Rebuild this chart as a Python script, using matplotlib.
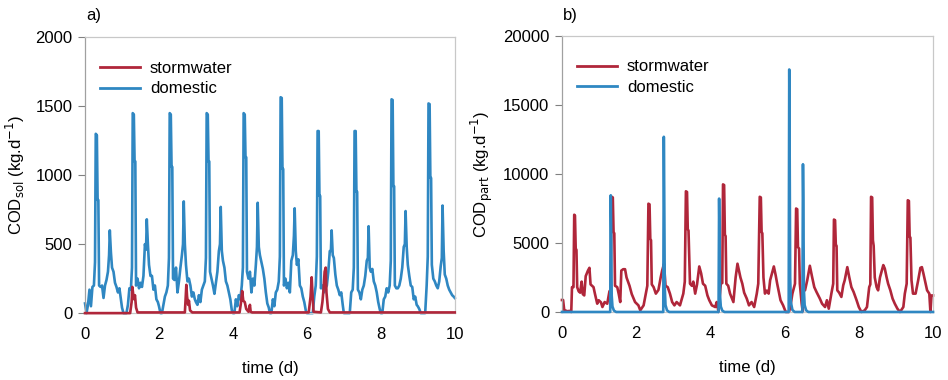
import matplotlib
matplotlib.use("Agg")
import matplotlib.pyplot as plt

plt.rcParams['font.family'] = ['Liberation Sans', 'DejaVu Sans']
plt.rcParams['font.size'] = 12

RED = '#B0263A'
BLUE = '#2F87C2'

# ---------- panel a: soluble COD ----------
# sampling offsets inside each day for the domestic soluble series
day_offsets = [0.00, 0.04, 0.08, 0.12, 0.16, 0.20, 0.24, 0.27, 0.29, 0.32,
               0.34, 0.36, 0.38, 0.42, 0.46, 0.50, 0.54, 0.58, 0.62, 0.65,
               0.67, 0.70, 0.73, 0.77, 0.81, 0.85, 0.89, 0.93, 0.97]

# domestic COD_sol (kg/d), one list per day
dom_sol_days = [
    [70, 0, 60, 170, 50, 190, 200, 370, 1300, 1290, 820, 820, 200, 190, 200, 110, 200, 240, 300, 420, 600, 440, 330, 300, 220, 190, 150, 180, 100],
    [40, 0, 0, 0, 60, 180, 170, 330, 1450, 1440, 1100, 1100, 200, 250, 180, 220, 190, 270, 500, 460, 680, 500, 350, 270, 270, 170, 200, 100, 80],
    [50, 0, 0, 60, 120, 150, 200, 400, 1450, 1440, 1060, 1060, 250, 240, 330, 150, 230, 330, 420, 500, 810, 500, 350, 230, 250, 200, 120, 150, 100],
    [80, 60, 130, 80, 170, 200, 230, 400, 1450, 1440, 1100, 1100, 300, 250, 200, 140, 220, 300, 450, 500, 770, 450, 380, 330, 230, 200, 150, 100, 20],
    [0, 0, 100, 50, 130, 100, 200, 330, 1450, 1440, 1130, 1130, 300, 250, 300, 150, 250, 200, 350, 480, 800, 480, 420, 370, 320, 250, 150, 70, 40],
    [0, 0, 100, 50, 150, 170, 230, 410, 1565, 1560, 1045, 1045, 200, 250, 180, 220, 150, 380, 420, 560, 760, 450, 350, 390, 200, 180, 120, 80, 20],
    [0, 0, 0, 0, 0, 120, 200, 410, 1320, 1320, 850, 850, 180, 200, 150, 180, 200, 300, 450, 450, 600, 420, 400, 280, 200, 170, 130, 150, 60],
    [0, 0, 0, 0, 0, 150, 170, 330, 1320, 1320, 880, 880, 170, 150, 100, 170, 200, 270, 380, 400, 630, 330, 300, 320, 230, 200, 150, 80, 30],
    [0, 0, 100, 120, 180, 150, 200, 380, 1550, 1545, 920, 920, 200, 180, 180, 200, 250, 330, 480, 500, 740, 480, 350, 270, 200, 190, 100, 120, 60],
    [50, 30, 0, 0, 0, 0, 200, 410, 1520, 1515, 980, 980, 350, 250, 230, 200, 180, 230, 340, 400, 780, 450, 280, 250, 200, 170, 150, 130, 120],
]
dom_sol_end = 110

# stormwater COD_sol (time in d, kg/d)
storm_sol_t = [0, 1.22, 1.26, 1.28, 1.31, 1.33, 1.35, 1.38, 1.42,
               2.70, 2.72, 2.74, 2.76, 2.79, 2.81, 2.84, 2.90,
               4.18, 4.22, 4.25, 4.28, 4.32, 4.36, 4.42, 4.46, 4.48, 4.52,
               6.05, 6.10, 6.13, 6.15, 6.18, 6.38, 6.42, 6.45, 6.48, 6.51,
               6.53, 6.57, 6.62, 10.0]
storm_sol_v = [0, 0, 80, 190, 120, 100, 130, 40, 5,
               5, 100, 205, 120, 60, 90, 20, 5,
               5, 80, 160, 90, 80, 30, 10, 60, 10, 5,
               5, 120, 260, 150, 10, 5, 80, 170, 300, 330,
               150, 30, 5, 5]

# ---------- panel b: particulate COD ----------
storm_part_t = [0.00, 0.03, 0.06, 0.10, 0.15, 0.20, 0.25, 0.27, 0.31, 0.33, 0.35, 0.37, 0.39, 0.41, 0.45, 0.49, 0.53, 0.56, 0.60, 0.64, 0.70, 0.74, 0.77, 0.81, 0.85, 0.89, 0.95, 0.99,
                1.05, 1.09, 1.15, 1.22, 1.28, 1.31, 1.34, 1.37, 1.39, 1.41, 1.43, 1.49, 1.53, 1.57, 1.60, 1.65, 1.70, 1.74, 1.78, 1.82, 1.88, 1.97,
                2.06, 2.11, 2.20, 2.26, 2.30, 2.33, 2.36, 2.38, 2.40, 2.42, 2.47, 2.53, 2.60, 2.66, 2.70, 2.75, 2.79, 2.85, 2.91, 2.97,
                3.03, 3.09, 3.18, 3.27, 3.31, 3.34, 3.37, 3.39, 3.41, 3.45, 3.50, 3.54, 3.59, 3.64, 3.70, 3.75, 3.80, 3.86, 3.92, 3.97,
                4.04, 4.13, 4.17, 4.22, 4.28, 4.32, 4.34, 4.37, 4.39, 4.41, 4.43, 4.48, 4.53, 4.62, 4.68, 4.73, 4.77, 4.81, 4.86, 4.91, 4.98,
                5.04, 5.11, 5.18, 5.25, 5.29, 5.33, 5.36, 5.38, 5.40, 5.43, 5.47, 5.52, 5.57, 5.61, 5.66, 5.71, 5.76, 5.80, 5.85, 5.89, 5.96,
                6.03, 6.12, 6.16, 6.21, 6.28, 6.31, 6.34, 6.36, 6.39, 6.41, 6.46, 6.49, 6.51, 6.55, 6.61, 6.68, 6.74, 6.80, 6.86, 6.95,
                7.01, 7.09, 7.14, 7.19, 7.26, 7.31, 7.33, 7.36, 7.38, 7.40, 7.42, 7.47, 7.53, 7.58, 7.62, 7.69, 7.74, 7.80, 7.86, 7.94,
                8.00, 8.07, 8.16, 8.22, 8.28, 8.31, 8.33, 8.36, 8.38, 8.40, 8.43, 8.48, 8.52, 8.57, 8.66, 8.70, 8.75, 8.79, 8.85, 8.91, 8.97,
                9.04, 9.11, 9.20, 9.24, 9.29, 9.32, 9.35, 9.37, 9.39, 9.42, 9.46, 9.53, 9.60, 9.66, 9.70, 9.74, 9.78, 9.84, 9.90, 9.93, 9.96, 10.0]
storm_part_v = [870, 870, 150, 100, 50, 80, 0, 1800, 1800, 7050, 7000, 4600, 4500, 1800, 1500, 1400, 2200, 1300, 1200, 2600, 3000, 3200, 2000, 1900, 1800, 1300, 600, 850,
                700, 360, 720, 600, 1500, 1600, 8350, 8300, 5800, 5700, 1900, 1800, 1300, 720, 3000, 3100, 3100, 2500, 2200, 1900, 1300, 720,
                480, 120, 480, 1330, 1900, 7850, 7800, 5300, 5200, 2000, 1800, 1330, 1600, 2500, 3000, 3500, 1900, 1800, 1330, 720,
                480, 720, 480, 1330, 2200, 8750, 8700, 6000, 5900, 2050, 1900, 2200, 1330, 2000, 3300, 2800, 2050, 1900, 1200, 850,
                480, 360, 720, 0, 2050, 2100, 9250, 9200, 5600, 5500, 2050, 1900, 1330, 720, 2500, 3500, 3000, 2500, 2050, 1400, 970,
                480, 720, 360, 1330, 2050, 8350, 8300, 5800, 5700, 2500, 1330, 1550, 1330, 2300, 2800, 3300, 2650, 2050, 1400, 850, 480,
                0, 0, 480, 1330, 2050, 7500, 7450, 4700, 4600, 2050, 600, 0, 2000, 1570, 2300, 3350, 2550, 1800, 1450, 970,
                600, 360, 850, 240, 1330, 2050, 6700, 6650, 4850, 4800, 1570, 1400, 1090, 1930, 2300, 3250, 2550, 1800, 1450, 850,
                360, 0, 120, 360, 1800, 2000, 8350, 8300, 5200, 4800, 2500, 1800, 1570, 2500, 3400, 3150, 2500, 2050, 1570, 970, 600,
                240, 0, 360, 1330, 2050, 8100, 8050, 5450, 5400, 2300, 1330, 1330, 2300, 3200, 3250, 2800, 2300, 1570, 1330, 0, 1200, 1200]

# domestic COD_part: short flushes
dom_part_t = [0, 1.30, 1.315, 1.325, 1.34, 1.36, 1.40, 1.46,
              2.73, 2.745, 2.755, 2.77, 2.79, 2.83, 2.89,
              4.22, 4.235, 4.245, 4.26, 4.28, 4.32, 4.38,
              6.11, 6.125, 6.135, 6.15, 6.17, 6.21, 6.27,
              6.48, 6.495, 6.505, 6.52, 6.54, 6.58, 6.64, 10.0]
dom_part_v = [0, 0, 8460, 6000, 1200, 400, 100, 0,
              0, 12700, 9000, 1800, 500, 120, 0,
              0, 8220, 5800, 1200, 400, 100, 0,
              0, 17580, 12500, 2500, 700, 150, 0,
              0, 10710, 8100, 1600, 500, 120, 0, 0]

dom_sol_t = [d + o for d in range(len(dom_sol_days)) for o in day_offsets] + [10.0]
dom_sol_v = [v for day in dom_sol_days for v in day] + [dom_sol_end]


def style_axes(ax, ymax, ystep):
    ax.set_xlim(0, 10)
    ax.set_ylim(0, ymax)
    ax.set_xticks(range(0, 11, 2))
    ax.set_yticks(range(0, ymax + 1, ystep))
    for s in ax.spines.values():
        s.set_color('#C8C8C8')
        s.set_linewidth(0.9)
    ax.spines['left'].set_color('#A0A0A0')
    ax.tick_params(axis='y', direction='out', length=5, color='#808080', labelsize=12, pad=4)
    ax.tick_params(axis='x', length=0, labelsize=12, pad=10)
    ax.set_xlabel('time (d)', fontsize=12, labelpad=14)


fig = plt.figure(figsize=(9.48, 3.8), dpi=100)
ax1 = fig.add_axes([0.0897, 0.176, 0.390, 0.726])
ax2 = fig.add_axes([0.5928, 0.179, 0.3914, 0.726])

# panel a
ax1.plot(dom_sol_t, dom_sol_v, color=BLUE, lw=1.9, zorder=2, clip_on=False)
ax1.plot(storm_sol_t, storm_sol_v, color=RED, lw=1.9, zorder=3, clip_on=False)
style_axes(ax1, 2000, 500)
ax1.set_ylabel('COD$_{\\mathrm{sol}}$ (kg.d$^{\\mathrm{-1}}$)', fontsize=12, labelpad=6)

# panel b
ax2.plot(storm_part_t, storm_part_v, color=RED, lw=1.9, zorder=2, clip_on=False)
ax2.plot(dom_part_t, dom_part_v, color=BLUE, lw=1.9, zorder=3, clip_on=False)
style_axes(ax2, 20000, 5000)
ax2.set_ylabel('COD$_{\\mathrm{part}}$ (kg.d$^{\\mathrm{-1}}$)', fontsize=12, labelpad=6)

for ax in (ax1, ax2):
    h1, = ax.plot([], [], color=RED, lw=2)
    h2, = ax.plot([], [], color=BLUE, lw=2)
    ax.legend([h1, h2], ['stormwater', 'domestic'], loc='upper left',
              bbox_to_anchor=(0.0, 0.97), frameon=False, fontsize=12,
              handlelength=2.4, handletextpad=0.6, labelspacing=0.35)

fig.text(0.091, 0.96, 'a)', fontsize=12, va='center')
fig.text(0.594, 0.96, 'b)', fontsize=12, va='center')

fig.savefig('out.png', dpi=100)
